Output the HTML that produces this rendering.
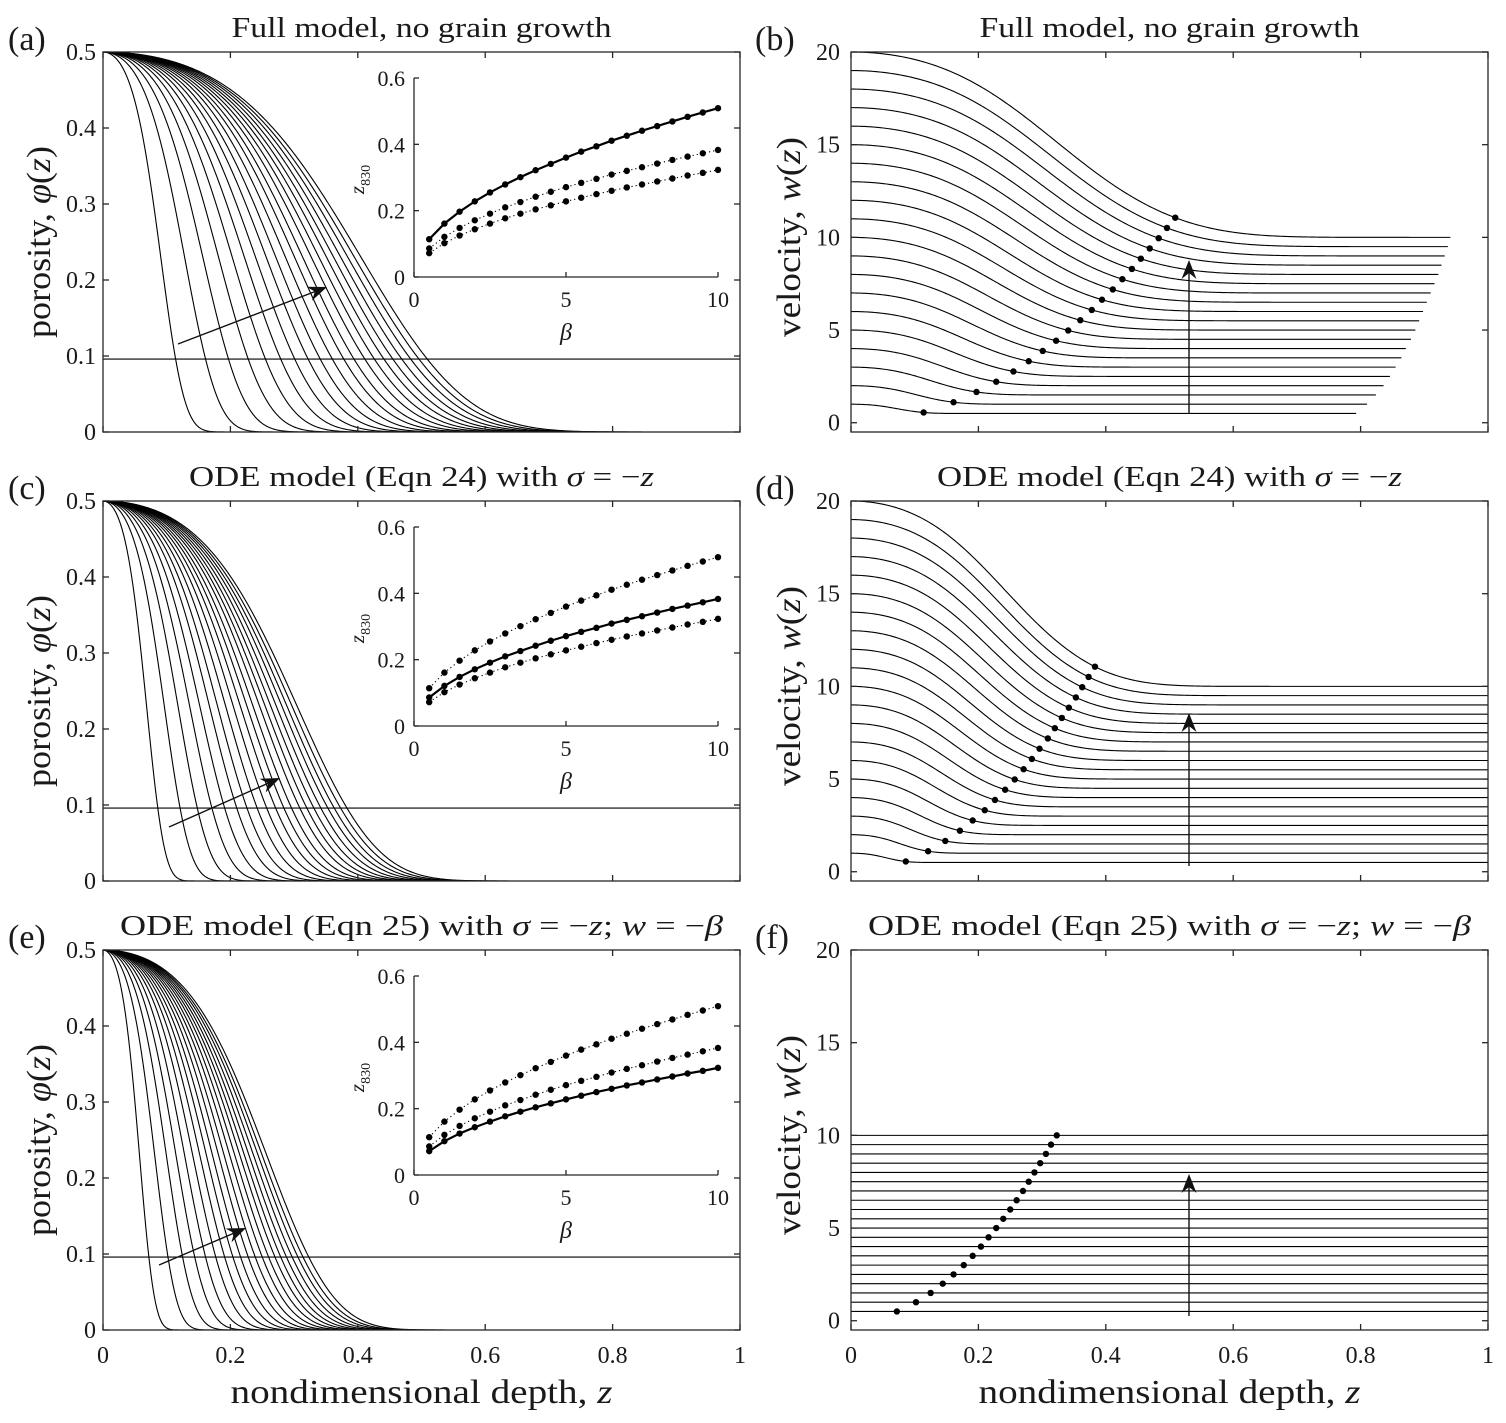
<!DOCTYPE html>
<html><head><meta charset="utf-8"><title>Porosity and velocity profiles</title>
<style>
html,body{margin:0;padding:0;background:#fff;}
svg{display:block;font-family:"Liberation Serif",serif;}
</style></head>
<body>
<svg id="fig" xmlns="http://www.w3.org/2000/svg" width="1506" height="1423" viewBox="0 0 1506 1423"></svg>
<script>
// ---- data ----
const beta = [0.5,1,1.5,2,2.5,3,3.5,4,4.5,5,5.5,6,6.5,7,7.5,8,8.5,9,9.5,10];
const zcFull = [0.114,0.161,0.197,0.228,0.255,0.279,0.301,0.322,0.341,0.360,0.378,0.394,0.411,0.426,0.441,0.455,0.469,0.483,0.496,0.509];
const zcOde24 = [0.086,0.121,0.148,0.171,0.191,0.210,0.226,0.242,0.257,0.271,0.284,0.296,0.309,0.320,0.331,0.342,0.353,0.363,0.373,0.383];
const zcOde25 = [0.072,0.102,0.125,0.144,0.161,0.177,0.191,0.204,0.216,0.228,0.239,0.250,0.260,0.270,0.279,0.288,0.297,0.306,0.314,0.323];
const zEndFull = [0.793,0.810,0.824,0.836,0.846,0.855,0.864,0.871,0.879,0.886,0.892,0.898,0.904,0.910,0.916,0.922,0.927,0.932,0.937,0.941];
const phiSurface = 0.5;
const phiCrit = 0.096;
const xTicksMain = [0,0.2,0.4,0.6,0.8,1];
const xTickLabels = ["0","0.2","0.4","0.6","0.8","1"];
const yTicksPhi = [0,0.1,0.2,0.3,0.4,0.5];
const yTickLabelsPhi = ["0","0.1","0.2","0.3","0.4","0.5"];
const yTicksW = [0,5,10,15,20];
const yTickLabelsW = ["0","5","10","15","20"];
const insetXTicks = [0,5,10];
const insetYTicks = [0,0.2,0.4,0.6];
const insetYTickLabels = ["0","0.2","0.4","0.6"];

const NS = "http://www.w3.org/2000/svg";
const svg = document.getElementById('fig');
function mk(tag, attrs, parent){
  const e = document.createElementNS(NS, tag);
  for (const k in attrs) e.setAttribute(k, attrs[k]);
  (parent||svg).appendChild(e);
  return e;
}
function scale(d0,d1,p0,p1){ return v => p0 + (v-d0)/(d1-d0)*(p1-p0); }
// porosity profile shape through (zc, phiCrit)
const qc = Math.log(phiSurface/phiCrit);
function phiAt(z, zc){
  const r = z/zc;
  const q = qc*(0.3*r*r + 0.7*r*r*r*r);
  return phiSurface*Math.exp(-q);
}
const AX = "#262626";

function drawBox(g, box, sx, sy, xt, yt, tl){
  const r = mk('rect',{x:box.x0,y:box.y0,width:box.x1-box.x0,height:box.y1-box.y0,fill:'none',stroke:AX,'stroke-width':1.3},g);
  
  
  xt.forEach(v=>{
    const x=sx(v);
    mk('line',{x1:x,y1:box.y1,x2:x,y2:box.y1-tl,stroke:AX,'stroke-width':1.3},g);
    mk('line',{x1:x,y1:box.y0,x2:x,y2:box.y0+tl,stroke:AX,'stroke-width':1.3},g);
  });
  yt.forEach(v=>{
    const y=sy(v);
    mk('line',{x1:box.x0,y1:y,x2:box.x0+tl,y2:y,stroke:AX,'stroke-width':1.3},g);
    mk('line',{x1:box.x1,y1:y,x2:box.x1-tl,y2:y,stroke:AX,'stroke-width':1.3},g);
  });
}
function text(g, x, y, str, size, opts){
  opts=opts||{};
  const t = mk('text',{x:x,y:y,'font-size':size,fill:'#1a1a1a','text-anchor':opts.anchor||'middle'},g);
  if(opts.italic) t.setAttribute('font-style','italic');
  if(opts.len){ t.setAttribute('textLength',opts.len); t.setAttribute('lengthAdjust','spacingAndGlyphs'); }
  if(opts.rot) t.setAttribute('transform','rotate(-90 '+x+' '+y+')');
  if(opts.html) t.innerHTML = str; else t.textContent = str;
  return t;
}
function arrow(g, x1,y1,x2,y2, name){
  const a = mk('g',{},g);
  
  
  const dx=x2-x1, dy=y2-y1, L=Math.hypot(dx,dy), ux=dx/L, uy=dy/L, px=-uy, py=ux;
  const hl=19, hw=7.5, notch=6;
  const bx=x2-ux*hl, by=y2-uy*hl;
  mk('line',{x1:x1,y1:y1,x2:x2-ux*notch,y2:y2-uy*notch,stroke:'#111','stroke-width':1.4},a);
  const pts=[[x2,y2],[bx+px*hw,by+py*hw],[x2-ux*(hl-notch),y2-uy*(hl-notch)],[bx-px*hw,by-py*hw]];
  mk('polygon',{points:pts.map(p=>p.join(',')).join(' '),fill:'#111'},a);
}

const LX0=103, LX1=740, RX0=851, RX1=1488;
const rows=[
  {y0:52,y1:432,letterL:'(a)',letterR:'(b)',title:'Full model, no grain growth',titleLen:380,zc:zcFull,solid:0,
   arrowL:[178,344,327,287],arrowR:[413,260],kind:'full'},
  {y0:501,y1:881,letterL:'(c)',letterR:'(d)',title:'ODE model (Eqn 24) with <tspan font-style="italic">σ</tspan> = −<tspan font-style="italic">z</tspan>',titleLen:465,zc:zcOde24,solid:1,
   arrowL:[169,827,280,778],arrowR:[866,713],kind:'ode24'},
  {y0:950,y1:1330,letterL:'(e)',letterR:'(f)',title:'ODE model (Eqn 25) with <tspan font-style="italic">σ</tspan> = −<tspan font-style="italic">z</tspan>; <tspan font-style="italic">w</tspan> = −<tspan font-style="italic">β</tspan>',titleLen:603,zc:zcOde25,solid:2,
   arrowL:[159,1265,246,1228],arrowR:[1316,1174],kind:'ode25'}
];
const insetSeries=[zcFull,zcOde24,zcOde25];

rows.forEach((row,ri)=>{
  const off=row.y0-52;
  // ---------- left panel ----------
  const gL = mk('g',{});
  
  
  const sx = scale(0,1,LX0,LX1), sy = scale(0,0.5,row.y1,row.y0);
  const curves = mk('g',{fill:'none',stroke:'#000','stroke-width':1.1},gL);
  
  
  row.zc.forEach((zc,i)=>{
    const zEnd = row.kind==='full'? zEndFull[i] : 1;
    let d='';
    for(let k=0;k<=400;k++){
      const z=zEnd*k/400;
      d+=(k?'L':'M')+sx(z).toFixed(2)+','+sy(phiAt(z,zc)).toFixed(2);
    }
    const p=mk('path',{d:d},curves);
    
    
  });
  const hl = mk('line',{x1:LX0,y1:sy(phiCrit),x2:LX1,y2:sy(phiCrit),stroke:'#000','stroke-width':1.2},gL);
  
  
  drawBox(gL,{x0:LX0,x1:LX1,y0:row.y0,y1:row.y1},sx,sy,xTicksMain,yTicksPhi,6);
  yTicksPhi.forEach((v,i)=>{ const t=text(gL,96,sy(v)+8,yTickLabelsPhi[i],24,{anchor:'end'});   });
  arrow(gL,row.arrowL[0],row.arrowL[1],row.arrowL[2],row.arrowL[3],'increasing-beta-arrow');
  let t = text(gL,8,row.y0-2,row.letterL,34,{anchor:'start'});
   
  t = text(gL,(LX0+LX1)/2,row.y0-15,row.title,28,{len:row.titleLen,html:true});
   
  t = text(gL,50,(row.y0+row.y1)/2,'porosity, <tspan font-style="italic">φ</tspan>(<tspan font-style="italic">z</tspan>)',34,{rot:true,len:192,html:true});
   

  // inset
  const gI = mk('g',{},gL);
  
  
  const ix = scale(0,10,414,718), iy = scale(0,0.6,277+off,78+off);
  mk('line',{x1:414,y1:iy(0),x2:414,y2:iy(0.6),stroke:AX,'stroke-width':1.3},gI);
  mk('line',{x1:414,y1:iy(0),x2:718,y2:iy(0),stroke:AX,'stroke-width':1.3},gI);
  insetXTicks.forEach(v=>{ mk('line',{x1:ix(v),y1:iy(0),x2:ix(v),y2:iy(0)-5,stroke:AX,'stroke-width':1.3},gI);
    const tt=text(gI,ix(v),iy(0)+30,String(v),22);   });
  insetYTicks.forEach((v,i)=>{ mk('line',{x1:414,y1:iy(v),x2:419,y2:iy(v),stroke:AX,'stroke-width':1.3},gI);
    const tt=text(gI,405,iy(v)+8,insetYTickLabels[i],22,{anchor:'end'});   });
  t=text(gI,566,iy(0)+63,'β',24,{italic:true});  
  t=text(gI,364,iy(0.3)+2,'<tspan font-style="italic">z</tspan><tspan font-size="14" dy="6">830</tspan>',21,{rot:true,html:true});
   
  insetSeries.forEach((ser,si)=>{
    const solid = si===row.solid;
    const d = ser.map((v,k)=>(k?'L':'M')+ix(beta[k]).toFixed(2)+','+iy(v).toFixed(2)).join('');
    const ln = mk('path',{d:d,fill:'none',stroke:'#000','stroke-width':solid?2.2:1.1},gI);
    if(!solid) ln.setAttribute('stroke-dasharray','1.2,3');
    
    
    ser.forEach((v,k)=>{
      const c=mk('circle',{cx:ix(beta[k]),cy:iy(v),r:3.2,fill:'#000'},gI);
      
      
    });
  });

  // ---------- right panel ----------
  const gR = mk('g',{});
  
  
  const rx = scale(0,1,RX0,RX1), ry = scale(-0.5,20,row.y1,row.y0);
  const vc = mk('g',{fill:'none',stroke:'#000','stroke-width':1.1},gR);
  
  
  beta.forEach((b,i)=>{
    const zEnd = row.kind==='full'? zEndFull[i] : 1;
    let d='';
    for(let k=0;k<=300;k++){
      const z=zEnd*k/300;
      const w = row.kind==='ode25' ? b : b/(1-phiAt(z,row.zc[i]));
      d+=(k?'L':'M')+rx(z).toFixed(2)+','+ry(w).toFixed(2);
    }
    const p=mk('path',{d:d},vc);
    
    
  });
  beta.forEach((b,i)=>{
    const zc=row.zc[i];
    const w = row.kind==='ode25' ? b : b/(1-phiAt(zc,zc));
    const c=mk('circle',{cx:rx(zc),cy:ry(w),r:3.2,fill:'#000'},gR);
    
    
  });
  drawBox(gR,{x0:RX0,x1:RX1,y0:row.y0,y1:row.y1},rx,ry,xTicksMain,yTicksW,6);
  yTicksW.forEach((v,i)=>{ const tt=text(gR,840,ry(v)+8,yTickLabelsW[i],24,{anchor:'end'});   });
  arrow(gR,1189,row.arrowR[0],1189,row.arrowR[1],'increasing-beta-arrow');
  t = text(gR,755,row.y0-2,row.letterR,34,{anchor:'start'});
   
  t = text(gR,(RX0+RX1)/2,row.y0-15,row.title,28,{len:row.titleLen,html:true});
   
  t = text(gR,800,(row.y0+row.y1)/2-5,'velocity, <tspan font-style="italic">w</tspan>(<tspan font-style="italic">z</tspan>)',34,{rot:true,len:200,html:true});
   

  if(ri===2){
    [[gL,sx,LX0,LX1],[gR,rx,RX0,RX1]].forEach(([g,s,a,b])=>{
      xTicksMain.forEach((v,i)=>{ const tt=text(g,s(v),1363,xTickLabels[i],24);   });
      const tt=text(g,(a+b)/2,1403,'nondimensional depth, <tspan font-style="italic">z</tspan>',34,{len:382,html:true});
       
    });
  }
});
</script>
</body></html>
